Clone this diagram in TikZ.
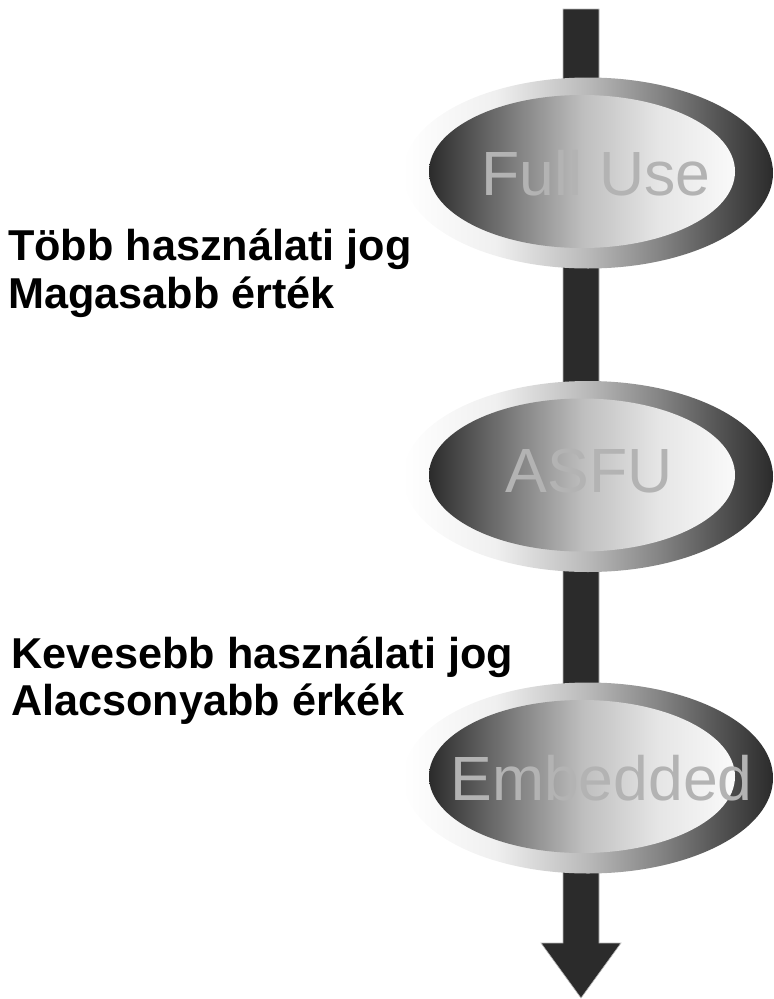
\documentclass[tikz,border=0pt]{standalone}
\usepackage{fontspec}
\setmainfont{Liberation Sans}
\usetikzlibrary{shapes.geometric}
\definecolor{labelgray}{HTML}{B3B3B3}
\definecolor{arrowdark}{HTML}{2B2B2B}
\pgfdeclarehorizontalshading{outershade}{100bp}{rgb(0bp)=(1,1,1); rgb(25bp)=(1,1,1); rgb(37.5bp)=(0.94,0.94,0.94); rgb(50bp)=(0.725,0.725,0.725); rgb(60bp)=(0.51,0.51,0.51); rgb(67.5bp)=(0.333,0.333,0.333); rgb(75bp)=(0.17,0.17,0.17); rgb(100bp)=(0.17,0.17,0.17)}
\pgfdeclarehorizontalshading{innershade}{100bp}{rgb(0bp)=(0.17,0.17,0.17); rgb(25bp)=(0.17,0.17,0.17); rgb(40bp)=(0.52,0.52,0.52); rgb(50bp)=(0.745,0.745,0.745); rgb(62.5bp)=(0.9,0.9,0.9); rgb(75bp)=(0.98,0.98,0.98); rgb(100bp)=(0.98,0.98,0.98)}
\tikzset{
  outerdisk/.style={ellipse, minimum width=370pt, minimum height=191pt, inner sep=0pt, outer sep=0pt, shading=outershade},
  innerdisk/.style={ellipse, minimum width=306pt, minimum height=153pt, inner sep=0pt, outer sep=0pt, shading=innershade},
  disklabel/.style={anchor=base, inner sep=0pt, text=labelgray, font=\fontsize{62.5}{74}\selectfont},
  sidetext/.style={anchor=base west, inner sep=0pt, text=black, font=\bfseries\fontsize{43.2}{50}\selectfont},
  arrowbody/.style={fill=arrowdark, draw=gray!55, line width=0.6pt}
}
\begin{document}
\begin{tikzpicture}[x=1pt, y=-1pt]
\useasboundingbox (0,0) rectangle (774,999);
% arrow
\coordinate (atop) at (581,9);
\coordinate (atip) at (581,998);
\fill[arrowbody] ([xshift=-18pt]atop) -- ([xshift=18pt]atop) -- (599,943) -- (621,943) -- (atip) -- (541,943) -- (563,943) -- cycle;
% Full Use
\node[outerdisk] (o1) at (588,173) {};
\node[innerdisk] (i1) at (582,171.5) {};
\node[disklabel] (l1) at (596,195) {Full Use};
% ASFU
\node[outerdisk] (o2) at (588,476.5) {};
\node[innerdisk] (i2) at (582,475) {};
\node[disklabel] (l2) at (589,492) {ASFU};
% Embedded
\node[outerdisk] (o3) at (588,778) {};
\node[innerdisk] (i3) at (582,776.5) {};
\node[disklabel] (l3) at (601.5,800.5) {Embedded};
% side texts
\node[sidetext] (t1) at (8,260.5) {Több használati jog};
\node[sidetext] (t2) at (8,308.5) {Magasabb érték};
\node[sidetext] (t3) at (11,668) {Kevesebb használati jog};
\node[sidetext] (t4) at (11,715) {Alacsonyabb érkék};
\end{tikzpicture}
\end{document}
